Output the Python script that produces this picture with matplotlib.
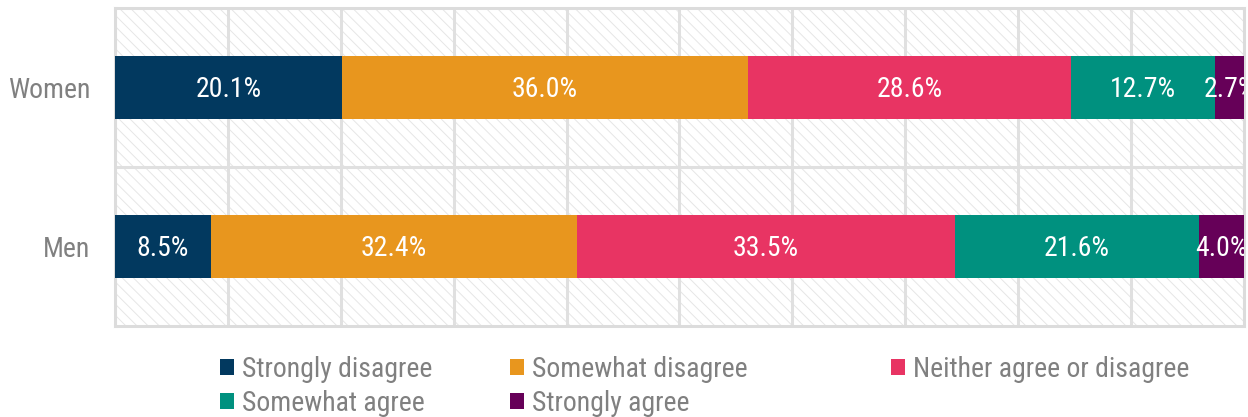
import matplotlib.pyplot as plt
from matplotlib.patches import Patch, Rectangle

groups = ["Women", "Men"]
responses = ["Strongly disagree", "Somewhat disagree", "Neither agree or disagree",
             "Somewhat agree", "Strongly agree"]
women = [20.1, 36.0, 28.6, 12.7, 2.7]
men = [8.5, 32.4, 33.5, 21.6, 4.0]
colors = ["#02395f", "#e8961e", "#e83463", "#00917f", "#660058"]

plt.rcParams["font.family"] = ["Roboto Condensed", "IBM Plex Sans Condensed",
                               "Roboto", "DejaVu Sans"]
plt.rcParams["hatch.linewidth"] = 0.7

fig = plt.figure(figsize=(12.48, 4.17), dpi=100)
ax = fig.add_axes([0.0921, 0.218, 0.9047, 0.763])

values = [women, men]
ypos = range(len(groups))

# hatched backdrop behind everything
ax.add_patch(Rectangle((0, 0), 1, 1, transform=ax.transAxes, facecolor="white",
                       edgecolor="#e6e6e6", hatch="\\\\\\", linewidth=0, zorder=0))

for i, row in zip(ypos, values):
    left = 0
    for j, v in enumerate(row):
        ax.barh(i, v, left=left, height=0.4, color=colors[j], zorder=3)
        ax.text(left + v / 2, i + 0.01, f"{v:.1f}%", ha="center", va="center",
                color="white", fontsize=20, zorder=4, clip_on=True)
        left += v

ax.set_xlim(0, 100)
ax.set_ylim(1.5, -0.5)
ax.set_yticks(list(ypos))
ax.set_yticklabels(groups, fontsize=20, color="#808080")
ax.tick_params(axis="y", length=0, pad=18)
ax.set_xticks(range(0, 101, 10))
ax.tick_params(axis="x", length=0, labelbottom=False)
ax.set_yticks([0.5], minor=True)
ax.tick_params(axis="y", which="minor", length=0)
ax.grid(axis="x", color="#e0e0e0", linewidth=2.2, zorder=1)
ax.grid(axis="y", which="minor", color="#e0e0e0", linewidth=2.2, zorder=1)
ax.set_axisbelow(True)
for s in ax.spines.values():
    s.set_color("#dcdcdc")
    s.set_linewidth(2.2)

# legend laid out on a fixed grid: one legend per column
columns = [[0, 3], [1, 4], [2]]
col_x = [220 / 1248, 510 / 1248, 891 / 1248]
for idx, x in zip(columns, col_x):
    fig.legend([Patch(facecolor=colors[k]) for k in idx], [responses[k] for k in idx],
               loc="upper left", bbox_to_anchor=(x, 0.146), frameon=False,
               fontsize=20, labelcolor="#808080", handlelength=0.5, handleheight=0.5,
               handletextpad=0.3, labelspacing=0.25, borderpad=0, borderaxespad=0)

fig.savefig("out.png", dpi=100)
